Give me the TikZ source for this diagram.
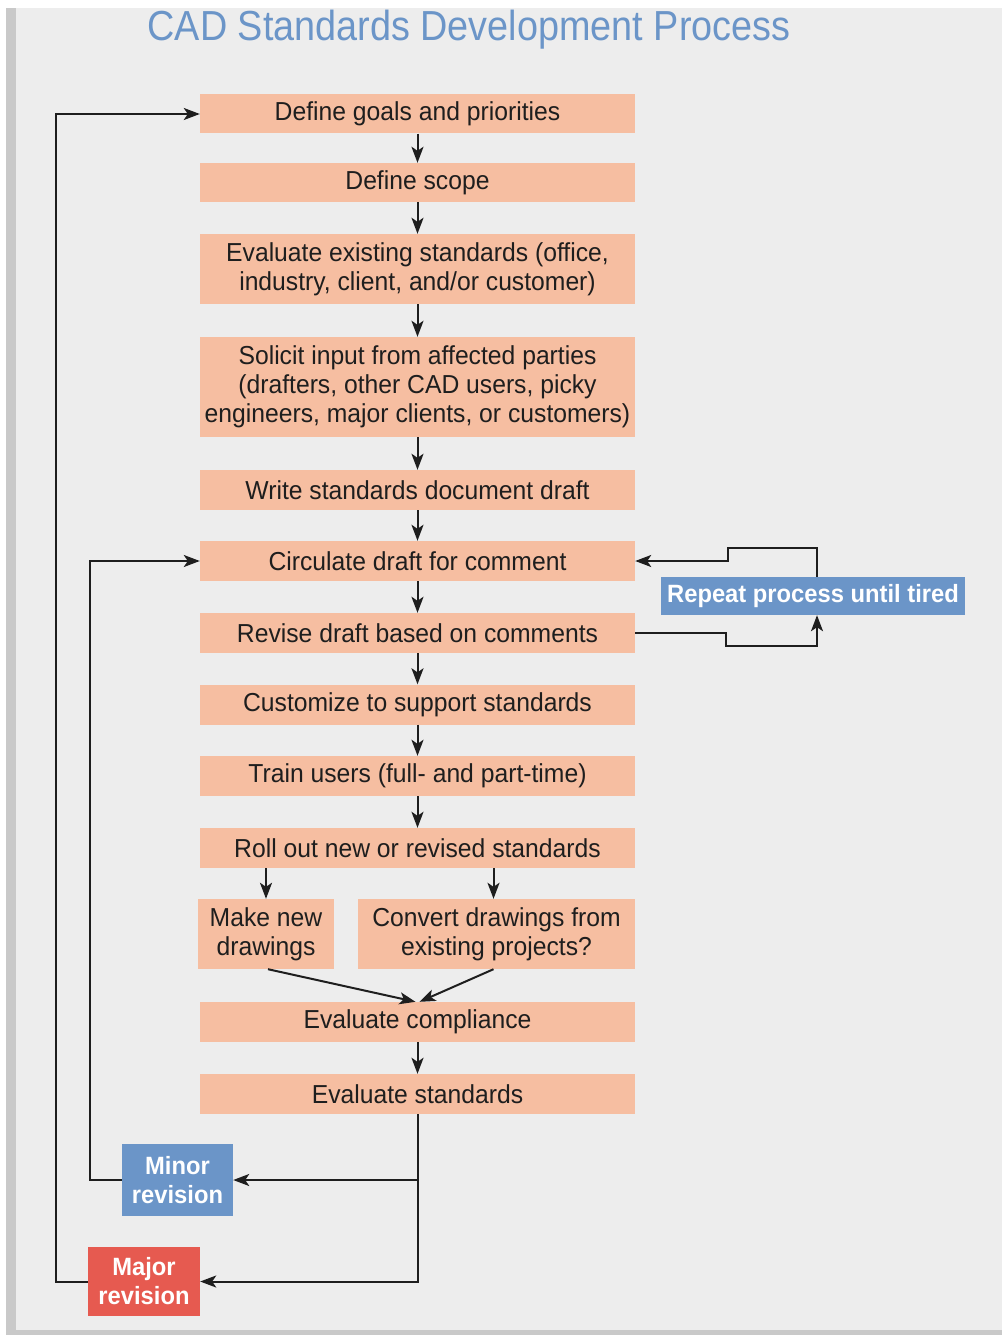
\documentclass[tikz,border=0pt]{standalone}
\usepackage{fontspec}
\setmainfont{Liberation Sans}[FakeStretch=0.95]
\newfontfamily\titlefont{Liberation Sans}[FakeStretch=0.9]
\usetikzlibrary{arrows.meta}
\definecolor{bg}{HTML}{EDEDED}
\definecolor{edge}{HTML}{C9C9C9}
\definecolor{peach}{HTML}{F6BEA1}
\definecolor{blu}{HTML}{6B95C8}
\definecolor{rd}{HTML}{E65A50}
\definecolor{ink}{HTML}{1E1E1E}
\tikzset{
  box/.style={fill=peach, inner sep=0pt, minimum width=435pt, align=center, text=ink, font=\fontsize{26}{29}\selectfont},
  tag/.style={inner sep=0pt, align=center, text=white, font=\bfseries\fontsize{25}{29}\selectfont},
  arr/.style={draw=ink, line width=2pt, -{Stealth[length=16pt,width=12pt,inset=4pt]}},
}
\begin{document}
\begin{tikzpicture}[x=1pt,y=-1pt]
\useasboundingbox (0,0) rectangle (1002,1335);
\fill[white] (0,0) rectangle (1002,1335);
\fill[edge] (6,8) rectangle (1002,1335);
\fill[bg] (16,8) rectangle (1002,1330);
\node[text=blu, font=\titlefont\fontsize{42}{46}\selectfont] (title) at (469,30) {CAD Standards Development Process};
\node[box, minimum height=39pt] (b1) at (417.5,114) {Define goals and priorities};
\node[box, minimum height=39pt] (b2) at (417.5,182.5) {Define scope};
\node[box, minimum height=70pt] (b3) at (417.5,269) {Evaluate existing standards (office,\\industry, client, and/or customer)};
\node[box, minimum height=100pt] (b4) at (417.5,387) {Solicit input from affected parties\\(drafters, other CAD users, picky\\engineers, major clients, or customers)};
\node[box, minimum height=40pt] (b5) at (417.5,490) {Write standards document draft};
\node[box, minimum height=40pt] (b6) at (417.5,561) {Circulate draft for comment};
\node[box, minimum height=40pt] (b7) at (417.5,633) {Revise draft based on comments};
\node[box, minimum height=40pt] (b8) at (417.5,704.5) {Customize to support standards};
\node[box, minimum height=40pt] (b9) at (417.5,776) {Train users (full- and part-time)};
\node[box, minimum height=40pt] (b10) at (417.5,848) {Roll out new or revised standards};
\node[box, minimum width=136pt, minimum height=70pt] (mk) at (266,934) {Make new\\drawings};
\node[box, minimum width=277pt, minimum height=70pt] (cv) at (496.5,934) {Convert drawings from\\existing projects?};
\node[box, minimum height=40pt] (b12) at (417.5,1022) {Evaluate compliance};
\node[box, minimum height=40pt] (b13) at (417.5,1094) {Evaluate standards};
\node[tag, fill=blu, minimum width=304pt, minimum height=38pt] (rep) at (813,596) {Repeat process until tired};
\node[tag, fill=blu, minimum width=111pt, minimum height=72pt] (mnr) at (177.5,1180) {Minor\\revision};
\node[tag, fill=rd, minimum width=112pt, minimum height=69pt] (mjr) at (144,1281.5) {Major\\revision};
% main chain
\foreach \a/\b in {b1/b2,b2/b3,b3/b4,b4/b5,b5/b6,b6/b7,b7/b8,b8/b9,b9/b10,b12/b13}
  \draw[arr] (\a.south) -- (\b.north);
\draw[arr] (mk.north |- b10.south) -- (mk.north);
\draw[arr] ([xshift=-3pt]cv.north |- b10.south) -- ([xshift=-3pt]cv.north);
\draw[arr] ([xshift=2pt]mk.south) -- ([xshift=-2pt]b12.north);
\draw[arr] ([xshift=-3pt]cv.south) -- ([xshift=2pt]b12.north);
% repeat loop
\coordinate (r1) at (726,646);
\coordinate (r2) at (728,548);
\draw[arr] (b7.east) -| (r1) -| ([xshift=4pt]rep.south);
\draw[arr] ([xshift=4pt]rep.north) |- (r2) |- (b6.east);
% revision loops
\draw[arr] (b13.south) |- (mnr.east);
\draw[arr] (b13.south) |- (mjr.east);
\draw[arr] (mnr.west) -- ++(-32,0) |- (b6.west);
\draw[arr] (mjr.west) -- ++(-32,0) |- (b1.west);
\end{tikzpicture}
\end{document}
